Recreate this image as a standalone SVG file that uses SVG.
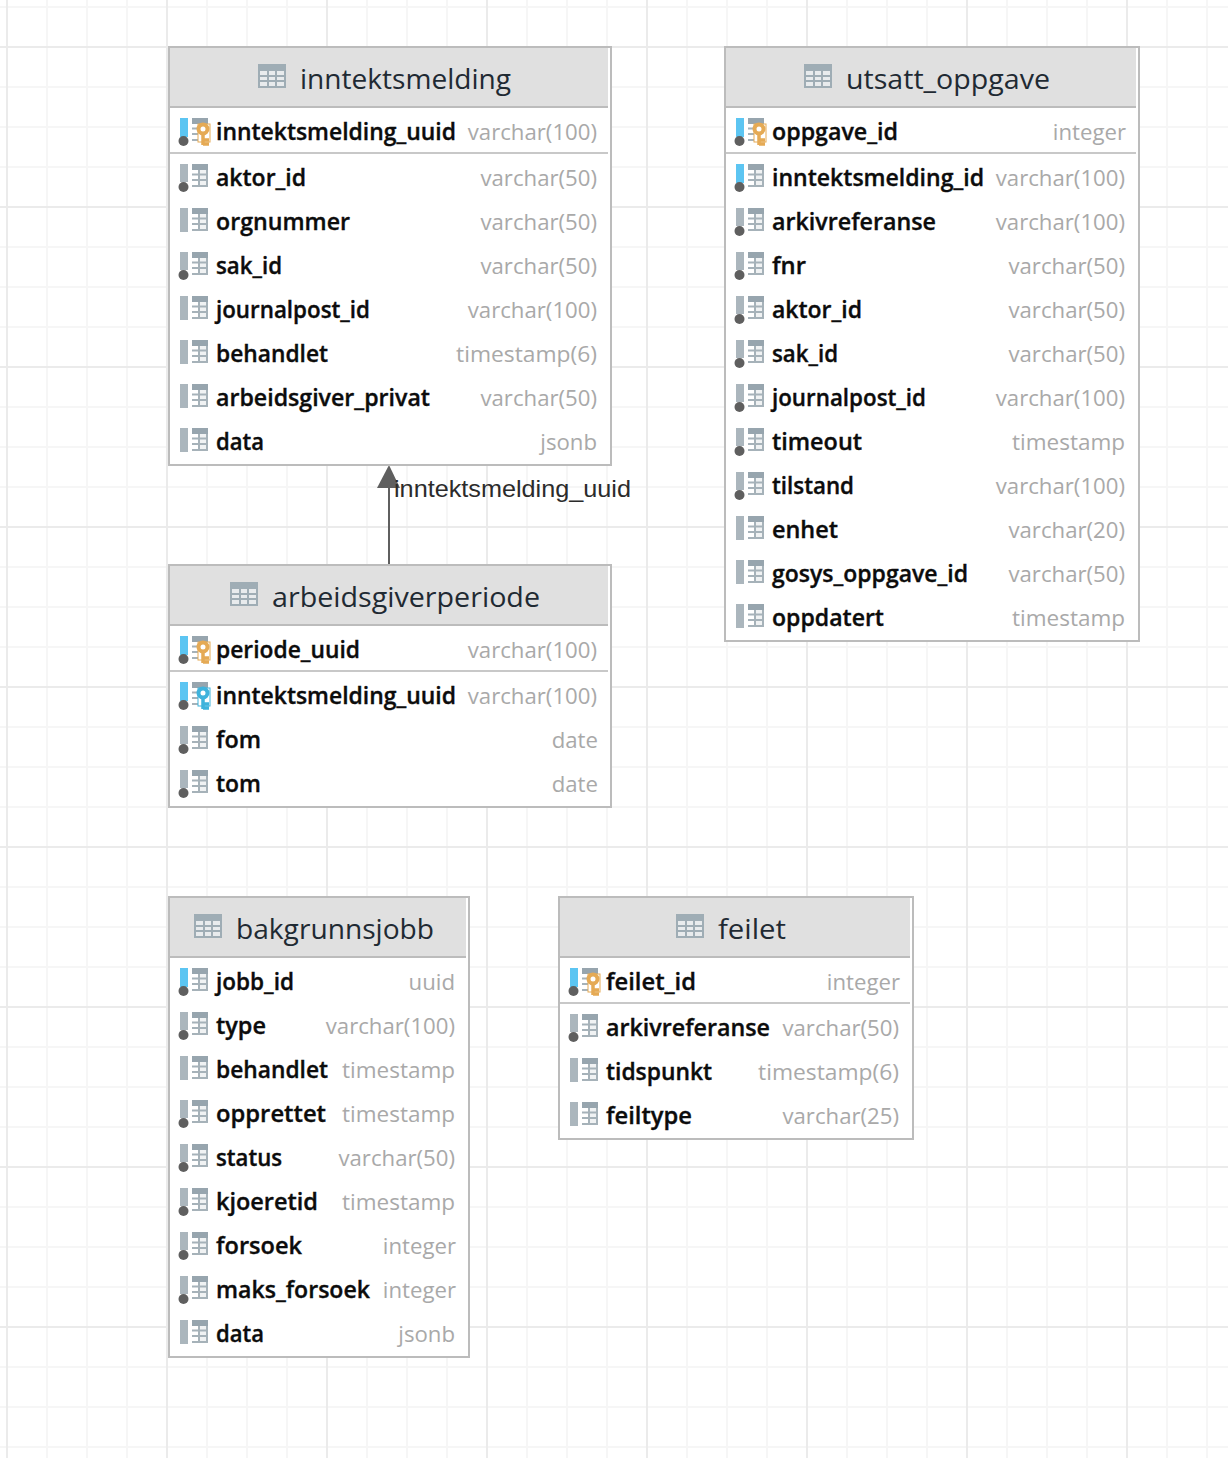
<svg xmlns="http://www.w3.org/2000/svg" width="1228" height="1458" viewBox="0 0 1228 1458">
<style>
.minor{stroke:#f6f6f6;stroke-width:2;fill:none}
.major{stroke:#ebebeb;stroke-width:2;fill:none}
.box{fill:#fff;stroke:#bcbcbc;stroke-width:2}
.head{fill:#e0e0e0}
.hline{stroke:#bcbcbc;stroke-width:2}
.sep{stroke:#c8c8c8;stroke-width:2}
.title{font-family:"Open Sans","Noto Sans",sans-serif;font-size:28px;fill:#1f2a33}
.col{font-family:"Open Sans","Noto Sans",sans-serif;font-size:23px;font-weight:600;fill:#0c0c0c;stroke:#0c0c0c;stroke-width:0.35px}
.type{font-family:"Open Sans","Noto Sans",sans-serif;font-size:22.2px;fill:#a9a9a9;text-anchor:end}
.lbl{font-family:"Liberation Sans",Arial,sans-serif;font-size:24px;fill:#2b2b2b}
.conn{stroke:#5f5f5f;stroke-width:2;fill:none}
.arrow{fill:#5f5f5f}
</style>
<defs>
<g id="ti"><rect x="0" y="0" width="28" height="24" fill="#9fadb5"/><g fill="#e8ebed"><rect x="2" y="7" width="7" height="4"/><rect x="11" y="7" width="6" height="4"/><rect x="19" y="7" width="7" height="4"/><rect x="2" y="13" width="7" height="3"/><rect x="11" y="13" width="6" height="3"/><rect x="19" y="13" width="7" height="3"/><rect x="2" y="18" width="7" height="4"/><rect x="11" y="18" width="6" height="4"/><rect x="19" y="18" width="7" height="4"/></g></g>
<g id="grid"><rect x="12" y="-14" width="16" height="6" fill="#97a5ae"/><rect x="19" y="-8" width="9" height="17" fill="#f0f2f3"/><path d="M12 -3.500H28M12 2H28M12 8H28M19 -8V9M27 -8V9" fill="none" stroke="#a6b2b9" stroke-width="2"/></g>
<g id="grayfull"><rect x="0" y="-14" width="8" height="24" fill="#abb6bd"/></g>
<g id="grayshort"><rect x="0" y="-14" width="8" height="18" fill="#abb6bd"/><circle cx="3.500" cy="9" r="5" fill="#5f5f5f"/></g>
<g id="blueshort"><rect x="0" y="-14" width="8" height="19" fill="#5cc5f2"/><circle cx="3.500" cy="9" r="5" fill="#5f5f5f"/></g>
<g id="key"><rect x="18" y="-8" width="12" height="18" fill="#fff"/><circle cx="23" cy="-3" r="4.500" fill="none" stroke-width="4"/><path d="M23 1V13M23 8H29M23 12H29" fill="none" stroke-width="3.500"/></g>
<g id="plain"><use href="#grayfull"/><use href="#grid"/></g>
<g id="nn"><use href="#grayshort"/><use href="#grid"/></g>
<g id="idx"><use href="#blueshort"/><use href="#grid"/></g>
<g id="pk"><use href="#idx"/><use href="#key" stroke="#e5aa55"/></g>
<g id="fk"><use href="#idx"/><use href="#key" stroke="#3fb3dc"/></g>
</defs>
<rect width="1228" height="1458" fill="#fff"/>
<g id="grid-lines">
<path class="minor" d="M47 0V1458M87 0V1458M127 0V1458M207 0V1458M247 0V1458M287 0V1458M367 0V1458M407 0V1458M447 0V1458M527 0V1458M567 0V1458M607 0V1458M687 0V1458M727 0V1458M767 0V1458M847 0V1458M887 0V1458M927 0V1458M1007 0V1458M1047 0V1458M1087 0V1458M1167 0V1458M1207 0V1458"/>
<path class="minor" d="M0 7H1228M0 87H1228M0 127H1228M0 167H1228M0 247H1228M0 287H1228M0 327H1228M0 407H1228M0 447H1228M0 487H1228M0 567H1228M0 607H1228M0 647H1228M0 727H1228M0 767H1228M0 807H1228M0 887H1228M0 927H1228M0 967H1228M0 1047H1228M0 1087H1228M0 1127H1228M0 1207H1228M0 1247H1228M0 1287H1228M0 1367H1228M0 1407H1228M0 1447H1228"/>
<path class="major" d="M7 0V1458M167 0V1458M327 0V1458M487 0V1458M647 0V1458M807 0V1458M967 0V1458M1127 0V1458"/>
<path class="major" d="M0 47H1228M0 207H1228M0 367H1228M0 527H1228M0 687H1228M0 847H1228M0 1007H1228M0 1167H1228M0 1327H1228"/>
</g>
<g id="connectors">
<path class="conn" d="M389 565V486"/>
<path class="arrow" d="M389 465L400 488H377Z"/>
<text class="lbl" x="394" y="497" textLength="237" lengthAdjust="spacingAndGlyphs">inntektsmelding_uuid</text>
</g>
<g id="inntektsmelding">
<rect class="box" x="169" y="47" width="442" height="418"/><rect class="head" x="170" y="48" width="438" height="58"/><path class="hline" d="M169 107H608"/>
<use href="#ti" x="258" y="64"/><text class="title" x="300" y="89" textLength="211" lengthAdjust="spacingAndGlyphs">inntektsmelding</text>
<path class="sep" d="M170 153H608"/>
<use href="#pk" x="180" y="132"/><text class="col" x="216" y="140" textLength="240" lengthAdjust="spacingAndGlyphs">inntektsmelding_uuid</text><text class="type" x="597" y="140">varchar(100)</text>
<use href="#nn" x="180" y="178"/><text class="col" x="216" y="186">aktor_id</text><text class="type" x="597" y="186">varchar(50)</text>
<use href="#plain" x="180" y="222"/><text class="col" x="216" y="230" textLength="134" lengthAdjust="spacingAndGlyphs">orgnummer</text><text class="type" x="597" y="230">varchar(50)</text>
<use href="#nn" x="180" y="266"/><text class="col" x="216" y="274" textLength="66" lengthAdjust="spacingAndGlyphs">sak_id</text><text class="type" x="597" y="274">varchar(50)</text>
<use href="#plain" x="180" y="310"/><text class="col" x="216" y="318" textLength="154" lengthAdjust="spacingAndGlyphs">journalpost_id</text><text class="type" x="597" y="318">varchar(100)</text>
<use href="#plain" x="180" y="354"/><text class="col" x="216" y="362" textLength="112" lengthAdjust="spacingAndGlyphs">behandlet</text><text class="type" x="597" y="362" textLength="141" lengthAdjust="spacingAndGlyphs">timestamp(6)</text>
<use href="#plain" x="180" y="398"/><text class="col" x="216" y="406" textLength="214" lengthAdjust="spacingAndGlyphs">arbeidsgiver_privat</text><text class="type" x="597" y="406">varchar(50)</text>
<use href="#plain" x="180" y="442"/><text class="col" x="216" y="450" textLength="48" lengthAdjust="spacingAndGlyphs">data</text><text class="type" x="597" y="450">jsonb</text>
</g>
<g id="utsatt_oppgave">
<rect class="box" x="725" y="47" width="414" height="594"/><rect class="head" x="726" y="48" width="410" height="58"/><path class="hline" d="M725 107H1136"/>
<use href="#ti" x="804" y="64"/><text class="title" x="846" y="89" textLength="204" lengthAdjust="spacingAndGlyphs">utsatt_oppgave</text>
<path class="sep" d="M726 153H1136"/>
<use href="#pk" x="736" y="132"/><text class="col" x="772" y="140" textLength="126" lengthAdjust="spacingAndGlyphs">oppgave_id</text><text class="type" x="1126" y="140">integer</text>
<use href="#idx" x="736" y="178"/><text class="col" x="772" y="186" textLength="212" lengthAdjust="spacingAndGlyphs">inntektsmelding_id</text><text class="type" x="1125" y="186">varchar(100)</text>
<use href="#nn" x="736" y="222"/><text class="col" x="772" y="230" textLength="164" lengthAdjust="spacingAndGlyphs">arkivreferanse</text><text class="type" x="1125" y="230">varchar(100)</text>
<use href="#nn" x="736" y="266"/><text class="col" x="772" y="274" textLength="34" lengthAdjust="spacingAndGlyphs">fnr</text><text class="type" x="1125" y="274">varchar(50)</text>
<use href="#nn" x="736" y="310"/><text class="col" x="772" y="318" textLength="90" lengthAdjust="spacingAndGlyphs">aktor_id</text><text class="type" x="1125" y="318">varchar(50)</text>
<use href="#nn" x="736" y="354"/><text class="col" x="772" y="362" textLength="66" lengthAdjust="spacingAndGlyphs">sak_id</text><text class="type" x="1125" y="362">varchar(50)</text>
<use href="#nn" x="736" y="398"/><text class="col" x="772" y="406" textLength="154" lengthAdjust="spacingAndGlyphs">journalpost_id</text><text class="type" x="1125" y="406">varchar(100)</text>
<use href="#nn" x="736" y="442"/><text class="col" x="772" y="450" textLength="90" lengthAdjust="spacingAndGlyphs">timeout</text><text class="type" x="1125" y="450" textLength="113" lengthAdjust="spacingAndGlyphs">timestamp</text>
<use href="#nn" x="736" y="486"/><text class="col" x="772" y="494" textLength="82" lengthAdjust="spacingAndGlyphs">tilstand</text><text class="type" x="1125" y="494">varchar(100)</text>
<use href="#plain" x="736" y="530"/><text class="col" x="772" y="538" textLength="66" lengthAdjust="spacingAndGlyphs">enhet</text><text class="type" x="1125" y="538">varchar(20)</text>
<use href="#plain" x="736" y="574"/><text class="col" x="772" y="582" textLength="196" lengthAdjust="spacingAndGlyphs">gosys_oppgave_id</text><text class="type" x="1125" y="582">varchar(50)</text>
<use href="#plain" x="736" y="618"/><text class="col" x="772" y="626" textLength="112" lengthAdjust="spacingAndGlyphs">oppdatert</text><text class="type" x="1125" y="626" textLength="113" lengthAdjust="spacingAndGlyphs">timestamp</text>
</g>
<g id="arbeidsgiverperiode">
<rect class="box" x="169" y="565" width="442" height="242"/><rect class="head" x="170" y="566" width="438" height="58"/><path class="hline" d="M169 625H608"/>
<use href="#ti" x="230" y="582"/><text class="title" x="272" y="607" textLength="268" lengthAdjust="spacingAndGlyphs">arbeidsgiverperiode</text>
<path class="sep" d="M170 671H608"/>
<use href="#pk" x="180" y="650"/><text class="col" x="216" y="658" textLength="144" lengthAdjust="spacingAndGlyphs">periode_uuid</text><text class="type" x="597" y="658">varchar(100)</text>
<use href="#fk" x="180" y="696"/><text class="col" x="216" y="704" textLength="240" lengthAdjust="spacingAndGlyphs">inntektsmelding_uuid</text><text class="type" x="597" y="704">varchar(100)</text>
<use href="#nn" x="180" y="740"/><text class="col" x="216" y="748" textLength="45" lengthAdjust="spacingAndGlyphs">fom</text><text class="type" x="598" y="748">date</text>
<use href="#nn" x="180" y="784"/><text class="col" x="216" y="792" textLength="45" lengthAdjust="spacingAndGlyphs">tom</text><text class="type" x="598" y="792">date</text>
</g>
<g id="bakgrunnsjobb">
<rect class="box" x="169" y="897" width="300" height="460"/><rect class="head" x="170" y="898" width="296" height="58"/><path class="hline" d="M169 957H466"/>
<use href="#ti" x="194" y="914"/><text class="title" x="236" y="939" textLength="198" lengthAdjust="spacingAndGlyphs">bakgrunnsjobb</text>
<use href="#idx" x="180" y="982"/><text class="col" x="216" y="990" textLength="78" lengthAdjust="spacingAndGlyphs">jobb_id</text><text class="type" x="455" y="990">uuid</text>
<use href="#nn" x="180" y="1026"/><text class="col" x="216" y="1034" textLength="50" lengthAdjust="spacingAndGlyphs">type</text><text class="type" x="455" y="1034">varchar(100)</text>
<use href="#plain" x="180" y="1070"/><text class="col" x="216" y="1078" textLength="112" lengthAdjust="spacingAndGlyphs">behandlet</text><text class="type" x="455" y="1078" textLength="113" lengthAdjust="spacingAndGlyphs">timestamp</text>
<use href="#nn" x="180" y="1114"/><text class="col" x="216" y="1122" textLength="110" lengthAdjust="spacingAndGlyphs">opprettet</text><text class="type" x="455" y="1122" textLength="113" lengthAdjust="spacingAndGlyphs">timestamp</text>
<use href="#nn" x="180" y="1158"/><text class="col" x="216" y="1166" textLength="66" lengthAdjust="spacingAndGlyphs">status</text><text class="type" x="455" y="1166">varchar(50)</text>
<use href="#nn" x="180" y="1202"/><text class="col" x="216" y="1210" textLength="102" lengthAdjust="spacingAndGlyphs">kjoeretid</text><text class="type" x="455" y="1210" textLength="113" lengthAdjust="spacingAndGlyphs">timestamp</text>
<use href="#nn" x="180" y="1246"/><text class="col" x="216" y="1254" textLength="86" lengthAdjust="spacingAndGlyphs">forsoek</text><text class="type" x="456" y="1254">integer</text>
<use href="#nn" x="180" y="1290"/><text class="col" x="216" y="1298" textLength="154" lengthAdjust="spacingAndGlyphs">maks_forsoek</text><text class="type" x="456" y="1298">integer</text>
<use href="#plain" x="180" y="1334"/><text class="col" x="216" y="1342" textLength="48" lengthAdjust="spacingAndGlyphs">data</text><text class="type" x="455" y="1342">jsonb</text>
</g>
<g id="feilet">
<rect class="box" x="559" y="897" width="354" height="242"/><rect class="head" x="560" y="898" width="350" height="58"/><path class="hline" d="M559 957H910"/>
<use href="#ti" x="676" y="914"/><text class="title" x="718" y="939" textLength="68" lengthAdjust="spacingAndGlyphs">feilet</text>
<path class="sep" d="M560 1003H910"/>
<use href="#pk" x="570" y="982"/><text class="col" x="606" y="990" textLength="90" lengthAdjust="spacingAndGlyphs">feilet_id</text><text class="type" x="900" y="990">integer</text>
<use href="#nn" x="570" y="1028"/><text class="col" x="606" y="1036" textLength="164" lengthAdjust="spacingAndGlyphs">arkivreferanse</text><text class="type" x="899" y="1036">varchar(50)</text>
<use href="#plain" x="570" y="1072"/><text class="col" x="606" y="1080" textLength="106" lengthAdjust="spacingAndGlyphs">tidspunkt</text><text class="type" x="899" y="1080" textLength="141" lengthAdjust="spacingAndGlyphs">timestamp(6)</text>
<use href="#plain" x="570" y="1116"/><text class="col" x="606" y="1124" textLength="86" lengthAdjust="spacingAndGlyphs">feiltype</text><text class="type" x="899" y="1124">varchar(25)</text>
</g>
</svg>
